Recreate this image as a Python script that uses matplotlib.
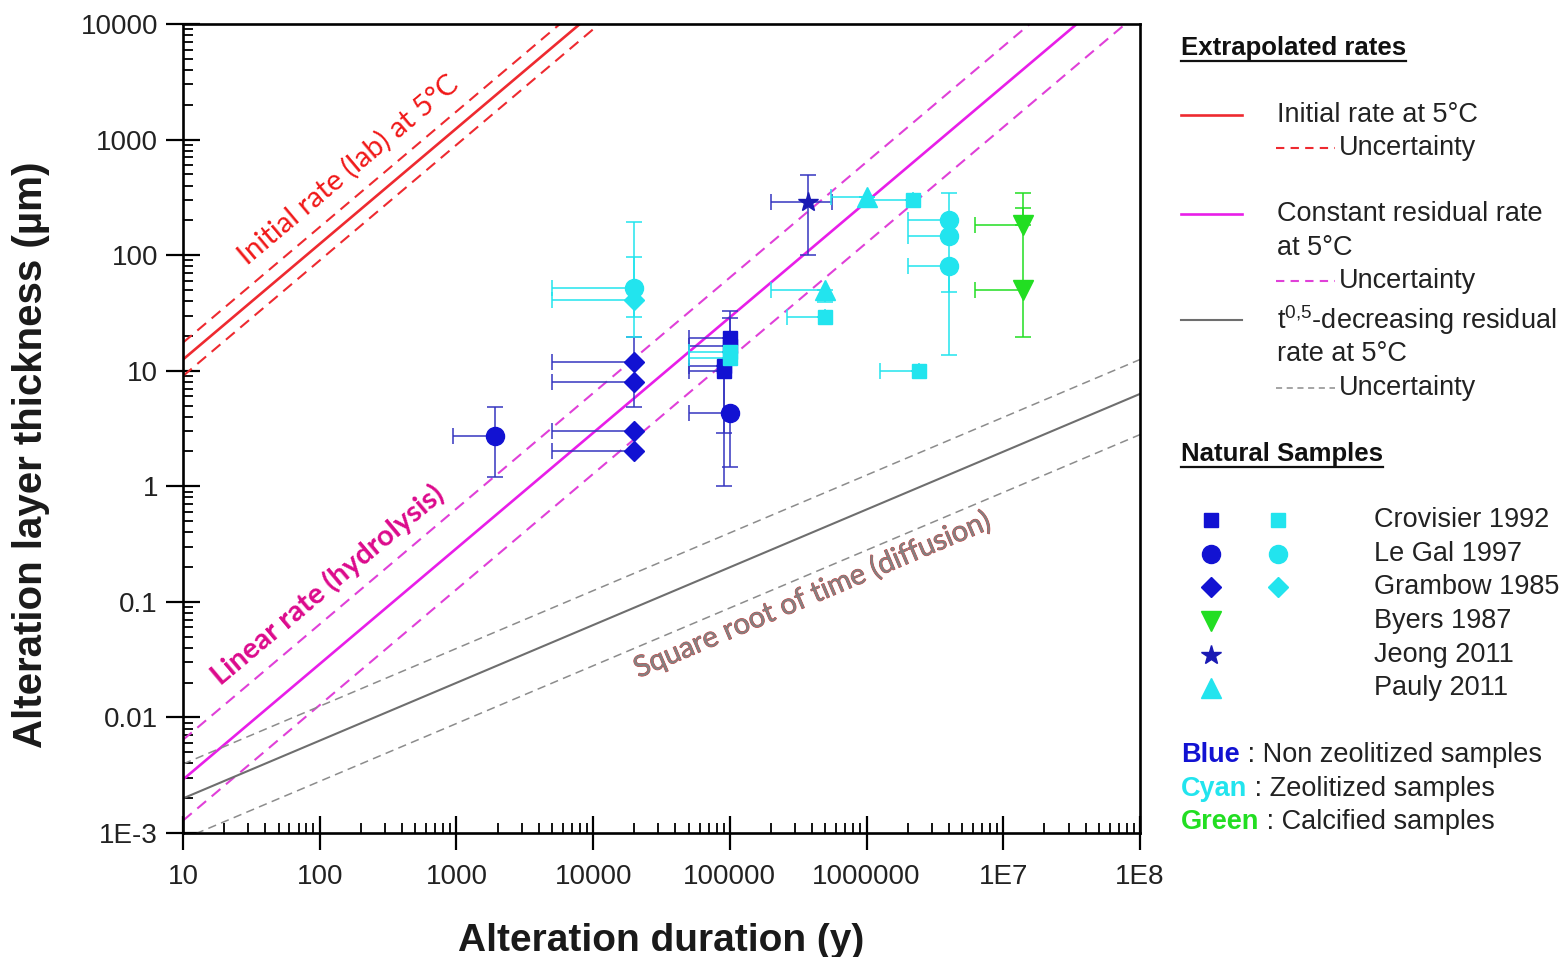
import numpy as np
import matplotlib
matplotlib.use("Agg")
import matplotlib.pyplot as plt
from matplotlib.lines import Line2D
from matplotlib import patheffects as pe
from matplotlib.ticker import FixedLocator, FixedFormatter, LogLocator, NullFormatter

plt.rcParams['font.family'] = ['Liberation Sans', 'DejaVu Sans']
plt.rcParams['mathtext.fontset'] = 'custom'
plt.rcParams['mathtext.rm'] = 'Liberation Sans'

# ---------------- data ----------------
# Extrapolated rates at 5 degC (thickness in um, duration in years)
initial_rate = 1.25          # um / y
initial_rate_lo = 0.9
initial_rate_hi = 1.75
residual_rate = 2.9e-4       # um / y
residual_rate_lo = 1.28e-4
residual_rate_hi = 6.4e-4
sqrt_coef = 6.3e-4           # um / y^0.5
sqrt_coef_lo = 2.8e-4
sqrt_coef_hi = 1.25e-3

x_ticks = [10, 100, 1000, 1e4, 1e5, 1e6, 1e7, 1e8]
x_tick_labels = ["10", "100", "1000", "10000", "100000", "1000000", "1E7", "1E8"]
y_ticks = [1e-3, 1e-2, 1e-1, 1, 10, 100, 1000, 1e4]
y_tick_labels = ["1E-3", "0.01", "0.1", "1", "10", "100", "1000", "10000"]

# Natural samples: value, then error bounds (low / high)
crov_blue_t = [1.0e5, 1.0e5, 9.0e4, 9.0e4]
crov_blue_y = [19, 16.5, 11, 10]
crov_blue_tlo = [5e4, 5e4, 5e4, 5e4]
crov_blue_thi = [1.0e5, 1.0e5, 9.0e4, 9.0e4]
crov_blue_ylo = [19, 16.5, 2.9, 1.0]
crov_blue_yhi = [33, 28.6, 11, 10]

crov_cyan_t = [1.0e5, 1.0e5, 5.0e5, 2.2e6, 2.4e6]
crov_cyan_y = [14.5, 13, 29, 300, 10]
crov_cyan_tlo = [5e4, 5e4, 2.6e5, 1.0e6, 1.25e6]
crov_cyan_thi = [1.0e5, 1.0e5, 5.0e5, 2.2e6, 2.4e6]
crov_cyan_ylo = [14.5, 13, 29, 300, 10]
crov_cyan_yhi = [14.5, 13, 29, 300, 10]

legal_blue_t = [1.9e3, 1.0e5]
legal_blue_y = [2.7, 4.3]
legal_blue_tlo = [950, 5e4]
legal_blue_thi = [1.9e3, 1.0e5]
legal_blue_ylo = [1.2, 1.47]
legal_blue_yhi = [4.9, 4.3]

legal_cyan_t = [2.0e4, 4.0e6, 4.0e6, 4.0e6]
legal_cyan_y = [52, 200, 145, 80]
legal_cyan_tlo = [5e3, 2e6, 2e6, 2e6]
legal_cyan_thi = [2.0e4, 4.0e6, 4.0e6, 4.0e6]
legal_cyan_ylo = [29, 200, 48, 13.7]
legal_cyan_yhi = [194, 345, 145, 80]

gram_blue_t = [2e4, 2e4, 2e4, 2e4]
gram_blue_y = [12, 8, 3, 2]
gram_blue_tlo = [5e3, 5e3, 5e3, 5e3]
gram_blue_thi = [2e4, 2e4, 2e4, 2e4]
gram_blue_ylo = [12, 4.85, 3, 2]
gram_blue_yhi = [19.5, 8, 3, 2]

gram_cyan_t = [2e4]
gram_cyan_y = [41]
gram_cyan_tlo = [5e3]
gram_cyan_thi = [2e4]
gram_cyan_ylo = [19.5]
gram_cyan_yhi = [96]

byers_t = [1.4e7, 1.4e7]
byers_y = [182, 50]
byers_tlo = [6.2e6, 6.2e6]
byers_thi = [1.4e7, 1.4e7]
byers_ylo = [182, 19.5]
byers_yhi = [345, 256]

jeong_t = [3.7e5]
jeong_y = [290]
jeong_tlo = [2.0e5]
jeong_thi = [5.6e5]
jeong_ylo = [100]
jeong_yhi = [490]

pauly_t = [1.0e6, 5.0e5]
pauly_y = [320, 50]
pauly_tlo = [5.5e5, 2.0e5]
pauly_thi = [1.0e6, 5.0e5]
pauly_ylo = [320, 39]
pauly_yhi = [320, 50]

# ---------------- style ----------------
RED = '#ee2a30'
MAG = '#e81ee8'
MAG_D = '#e040d8'
GRAY = '#6e6e6e'
GRAY_D = '#8c8c8c'
BLUE = '#1212d2'
BLUE_E = '#3535c0'
CYAN = '#22e4ee'
GREEN = '#22de22'
W, H = 1563, 957

fig = plt.figure(figsize=(W / 100, H / 100), dpi=100)
fig.patch.set_facecolor('white')
ax = fig.add_axes([183 / W, 1 - 833 / H, (1140 - 183) / W, (833 - 24) / H])
ax.set_xscale('log')
ax.set_yscale('log')
ax.set_xlim(10, 1e8)
ax.set_ylim(1e-3, 1e4)

t = np.logspace(1, 8, 400)
dash = (0, (5.5, 3.5))
ax.plot(t, initial_rate * t, color=RED, lw=1.9, zorder=2)
ax.plot(t, initial_rate_lo * t, color=RED, lw=1.5, ls=dash, zorder=2)
ax.plot(t, initial_rate_hi * t, color=RED, lw=1.5, ls=dash, zorder=2)
ax.plot(t, residual_rate * t, color=MAG, lw=1.9, zorder=2)
ax.plot(t, residual_rate_lo * t, color=MAG_D, lw=1.5, ls=dash, zorder=2)
ax.plot(t, residual_rate_hi * t, color=MAG_D, lw=1.5, ls=dash, zorder=2)
ax.plot(t, sqrt_coef * np.sqrt(t), color=GRAY, lw=1.5, zorder=2)
ax.plot(t, sqrt_coef_lo * np.sqrt(t), color=GRAY_D, lw=1.1, ls=dash, zorder=2)
ax.plot(t, sqrt_coef_hi * np.sqrt(t), color=GRAY_D, lw=1.1, ls=dash, zorder=2)


def samples(tv, yv, tlo, thi, ylo, yhi, marker, color, ecolor, ms):
    tv, yv = np.array(tv), np.array(yv)
    xerr = [tv - np.array(tlo), np.array(thi) - tv]
    yerr = [yv - np.array(ylo), np.array(yhi) - yv]
    ax.errorbar(tv, yv, xerr=xerr, yerr=yerr, fmt='none', ecolor=ecolor,
                elinewidth=1.1, capsize=6, capthick=1.1, zorder=3)
    ax.plot(tv, yv, ls='none', marker=marker, color=color, mec=color,
            ms=ms, zorder=4)


samples(gram_blue_t, gram_blue_y, gram_blue_tlo, gram_blue_thi, gram_blue_ylo, gram_blue_yhi,
        'D', BLUE, BLUE_E, 10)
samples(gram_cyan_t, gram_cyan_y, gram_cyan_tlo, gram_cyan_thi, gram_cyan_ylo, gram_cyan_yhi,
        'D', CYAN, CYAN, 10)
samples(legal_cyan_t, legal_cyan_y, legal_cyan_tlo, legal_cyan_thi, legal_cyan_ylo, legal_cyan_yhi,
        'o', CYAN, CYAN, 13)
samples(legal_blue_t, legal_blue_y, legal_blue_tlo, legal_blue_thi, legal_blue_ylo, legal_blue_yhi,
        'o', BLUE, BLUE_E, 13)
samples(crov_blue_t, crov_blue_y, crov_blue_tlo, crov_blue_thi, crov_blue_ylo, crov_blue_yhi,
        's', BLUE, BLUE_E, 10)
samples(crov_cyan_t, crov_cyan_y, crov_cyan_tlo, crov_cyan_thi, crov_cyan_ylo, crov_cyan_yhi,
        's', CYAN, CYAN, 10)
samples(byers_t, byers_y, byers_tlo, byers_thi, byers_ylo, byers_yhi,
        'v', GREEN, GREEN, 15)
samples(jeong_t, jeong_y, jeong_tlo, jeong_thi, jeong_ylo, jeong_yhi,
        '*', '#1a1ab4', BLUE_E, 15)
samples(pauly_t, pauly_y, pauly_tlo, pauly_thi, pauly_ylo, pauly_yhi,
        '^', CYAN, CYAN, 15)

# curve annotations
ax.text(161, 546, "Initial rate (lab) at 5°C", color='#f01818', fontsize=21,
        family=['Lato', 'DejaVu Sans'], rotation=40, ha='center', va='center',
        rotation_mode='anchor')
ax.text(115, 0.14, "Linear rate (hydrolysis)", color='#dc0a8c', fontsize=21,
        family=['Lato', 'DejaVu Sans'], fontweight='bold', rotation=40,
        ha='center', va='center', rotation_mode='anchor')
ax.text(4.0e5, 0.115, "Square root of time (diffusion)", color='#858080', fontsize=21,
        family=['Lato', 'DejaVu Sans'], rotation=23, ha='center', va='center',
        rotation_mode='anchor',
        path_effects=[pe.withStroke(linewidth=0.6, foreground='#d03838')])

# axes styling
for side in ['left', 'bottom', 'right', 'top']:
    ax.spines[side].set_linewidth(1.9)
ax.xaxis.set_major_locator(FixedLocator(x_ticks))
ax.xaxis.set_major_formatter(FixedFormatter(x_tick_labels))
ax.yaxis.set_major_locator(FixedLocator(y_ticks))
ax.yaxis.set_major_formatter(FixedFormatter(y_tick_labels))
ax.xaxis.set_minor_locator(LogLocator(base=10, subs=np.arange(2, 10), numticks=20))
ax.yaxis.set_minor_locator(LogLocator(base=10, subs=np.arange(2, 10), numticks=20))
ax.xaxis.set_minor_formatter(NullFormatter())
ax.yaxis.set_minor_formatter(NullFormatter())
ax.tick_params(which='major', direction='inout', length=24, width=1.6,
               labelsize=20, labelcolor='#222222', pad=6)
ax.tick_params(axis='x', which='major', pad=10)
ax.tick_params(which='minor', direction='in', length=7, width=1.3)
ax.tick_params(top=False, right=False, which='both')

ax.set_xlabel("Alteration duration (y)", fontsize=28, fontweight='bold',
              color='#1a1a1a', labelpad=24)
ax.set_ylabel("Alteration layer thickness (µm)", fontsize=29, fontweight='bold',
              color='#1a1a1a')
ax.yaxis.set_label_coords(-0.139, 0.467)


# ---------------- side legend ----------------
def fx(px):
    return px / W


def fy(py):
    return 1 - py / H


def underlined(x, y, s):
    txt = fig.text(fx(x), fy(y), s, fontsize=18.5, fontweight='bold', va='center',
                   ha='left', color='#111111')
    fig.canvas.draw()
    bb = txt.get_window_extent()
    fig.add_artist(Line2D([bb.x0 / W, bb.x1 / W], [(bb.y0 - 1) / H] * 2,
                          color='#111111', lw=1.6))


FS = 19.5
underlined(1181, 48, "Extrapolated rates")
legend_lines = [
    (1181, 1242, 115, RED, '-', 1.9),
    (1276, 1335, 148, RED, (0, (4, 3)), 1.5),
    (1181, 1242, 214, MAG, '-', 1.9),
    (1276, 1335, 281, MAG_D, (0, (4, 3)), 1.5),
    (1181, 1242, 320, GRAY, '-', 1.5),
    (1276, 1335, 388, GRAY_D, (0, (4, 3)), 1.1),
]
for x0, x1, yy, c, ls, lw in legend_lines:
    fig.add_artist(Line2D([fx(x0), fx(x1)], [fy(yy), fy(yy)], color=c, ls=ls, lw=lw))

legend_texts = [
    (1277, 115, "Initial rate at 5°C"),
    (1339, 148, "Uncertainty"),
    (1277, 214, "Constant residual rate"),
    (1277, 248, "at 5°C"),
    (1339, 281, "Uncertainty"),
    (1277, 320, r"t$^{\mathrm{0{,}5}}$-decreasing residual"),
    (1277, 354, "rate at 5°C"),
    (1339, 388, "Uncertainty"),
]
for x, yy, s in legend_texts:
    fig.text(fx(x), fy(yy), s, fontsize=FS, va='center', ha='left', color='#222222')

underlined(1181, 454, "Natural Samples")

sample_names = ["Crovisier 1992", "Le Gal 1997", "Grambow 1985", "Byers 1987",
                "Jeong 2011", "Pauly 2011"]
blue_col = [('s', BLUE, 10), ('o', BLUE, 13), ('D', BLUE, 10), ('v', GREEN, 15),
            ('*', '#1a1ab4', 15), ('^', CYAN, 15)]
cyan_col = [('s', CYAN, 10), ('o', CYAN, 13), ('D', CYAN, 10), None, None, None]
row_y = [520, 554, 587, 621, 655, 688]
for yy, name, m1, m2 in zip(row_y, sample_names, blue_col, cyan_col):
    fig.add_artist(Line2D([fx(1211)], [fy(yy)], marker=m1[0], color=m1[1], ms=m1[2], ls='none'))
    if m2 is not None:
        fig.add_artist(Line2D([fx(1278)], [fy(yy)], marker=m2[0], color=m2[1], ms=m2[2], ls='none'))
    fig.text(fx(1374), fy(yy), name, fontsize=FS, va='center', ha='left', color='#222222')

groups = [("Blue", BLUE, " : Non zeolitized samples", 762),
          ("Cyan", CYAN, " : Zeolitized samples", 796),
          ("Green", GREEN, " : Calcified samples", 829)]
for word, c, rest, yy in groups:
    t1 = fig.text(fx(1181), fy(yy), word, fontsize=FS, fontweight='bold', color=c,
                  va='baseline', ha='left')
    ax.annotate(rest, xy=(1, 0), xycoords=t1, va='bottom', ha='left',
                fontsize=FS, color='#222222', annotation_clip=False)

fig.savefig("out.png", dpi=100, facecolor='white')
